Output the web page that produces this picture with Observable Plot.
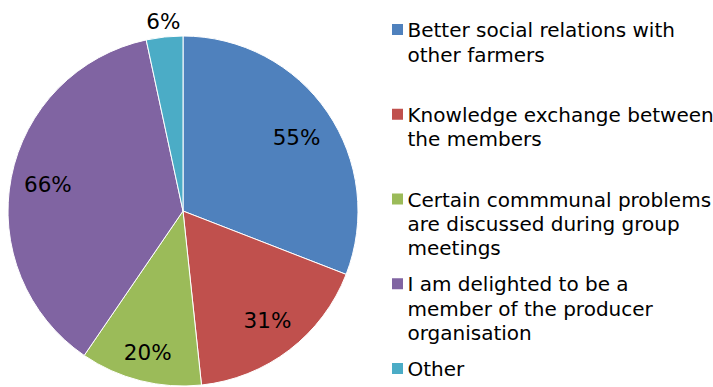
<!DOCTYPE html>
<html><head><meta charset="utf-8">
<script src="https://cdn.jsdelivr.net/npm/d3@7"></script>
<script src="https://cdn.jsdelivr.net/npm/@observablehq/plot@0.6"></script>
<style>html,body{margin:0;padding:0;background:#fff}svg{display:block}</style>
</head><body><div id="chart"></div>
<script>
// ---- data ----
const categories = [
  "Better social relations with other farmers",
  "Knowledge exchange between the members",
  "Certain commmunal problems are discussed during group meetings",
  "I am delighted to be a member of the producer organisation",
  "Other"
];
const legendLines = [
  ["Better social relations with", "other farmers"],
  ["Knowledge exchange between", "the members"],
  ["Certain commmunal problems", "are discussed during group", "meetings"],
  ["I am delighted to be a", "member of the producer", "organisation"],
  ["Other"]
];
const values = [55, 31, 20, 66, 6];
const valueLabels = ["55%", "31%", "20%", "66%", "6%"];
const colors = ["#4F81BD", "#C0504D", "#9BBB59", "#8064A2", "#4BACC6"];

// ---- layout ----
const W = 713, H = 387;
const cx = 183, cy = 211, R = 175;
const font = "DejaVu Sans, Verdana, sans-serif";
// label distance from centre (fraction of radius), per slice ("best fit" look)
const labelRadius = [0.77, 0.79, 0.835, 0.79, 1.09];

const data = categories.map((c, i) => ({category: c, value: values[i], label: valueLabels[i], lines: legendLines[i]}));
const arcs = d3.pie().sort(null).value(d => d.value)(data);

// label positions derived from slice angles
const labelPos = arcs.map((a, i) => {
  const ang = (a.startAngle + a.endAngle) / 2 + (i === 0 ? 0.025 : 0);
  const r = labelRadius[i] * R;
  return {label: a.data.label, x: cx + r * Math.sin(ang), y: cy - r * Math.cos(ang)};
});

// legend entries
const legendTop = 36.7, legendStep = 84.75, lineStep = 24.3;
const legendBoxes = data.map((d, i) => ({category: d.category, base: legendTop + i * legendStep}));
const legendText = [];
data.forEach((d, i) => d.lines.forEach((t, j) => legendText.push({text: t, base: legendTop + i * legendStep + j * lineStep})));

const pieMark = (index, scales) => {
  const g = d3.create("svg:g").attr("transform", `translate(${cx},${cy})`);
  const arc = d3.arc().innerRadius(0).outerRadius(R);
  g.selectAll("path").data(arcs).join("path")
    .attr("d", arc)
    .attr("fill", d => scales.color(d.data.category))
    .attr("stroke", "#fff")
    .attr("stroke-width", 1)
    .attr("stroke-linejoin", "round");
  return g.node();
};

const chart = Plot.plot({
  width: W, height: H, margin: 0,
  x: {domain: [0, W], range: [0, W], axis: null},
  y: {domain: [0, H], range: [0, H], axis: null},
  color: {domain: categories, range: colors},
  style: {background: "#fff", fontFamily: font},
  marks: [
    pieMark,
    Plot.text(labelPos, {x: "x", y: "y", text: "label", fontSize: 21.5, fill: "#000", fontFamily: font, textAnchor: "middle"}),
    Plot.rect(legendBoxes, {x1: 392, x2: 403, y1: d => d.base - 12.7, y2: d => d.base - 1.7, fill: "category", inset: 0}),
    Plot.text(legendText, {x: 407, y: "base", text: "text", textAnchor: "start", lineAnchor: "bottom", fontSize: 20, fill: "#000", fontFamily: font})
  ]
});
document.getElementById("chart").appendChild(chart);
</script>
</body></html>
